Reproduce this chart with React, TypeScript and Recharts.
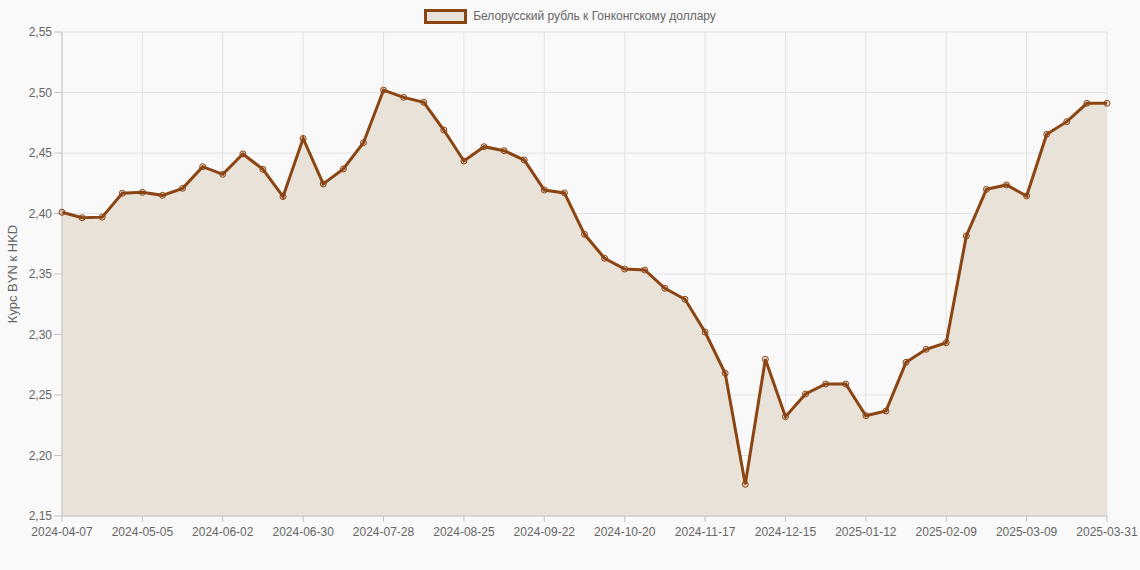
import React from 'react';
import { AreaChart, Area, XAxis, YAxis, CartesianGrid, Legend } from 'recharts';

const dates = [
  '2024-04-07', '2024-04-14', '2024-04-21', '2024-04-28', '2024-05-05', '2024-05-12', '2024-05-19', '2024-05-26',
  '2024-06-02', '2024-06-09', '2024-06-16', '2024-06-23', '2024-06-30', '2024-07-07', '2024-07-14', '2024-07-21',
  '2024-07-28', '2024-08-04', '2024-08-11', '2024-08-18', '2024-08-25', '2024-09-01', '2024-09-08', '2024-09-15',
  '2024-09-22', '2024-09-29', '2024-10-06', '2024-10-13', '2024-10-20', '2024-10-27', '2024-11-03', '2024-11-10',
  '2024-11-17', '2024-11-24', '2024-12-01', '2024-12-08', '2024-12-15', '2024-12-22', '2024-12-29', '2025-01-05',
  '2025-01-12', '2025-01-19', '2025-01-26', '2025-02-02', '2025-02-09', '2025-02-16', '2025-02-23', '2025-03-02',
  '2025-03-09', '2025-03-16', '2025-03-23', '2025-03-30', '2025-03-31',
];

const rates = [
  2.401, 2.3965, 2.397, 2.4167, 2.4175, 2.415, 2.4208, 2.4387,
  2.4324, 2.4492, 2.4365, 2.414, 2.462, 2.4244, 2.4368, 2.4585,
  2.502, 2.496, 2.4919, 2.469, 2.4434, 2.4552, 2.4519, 2.4442,
  2.4194, 2.417, 2.3828, 2.363, 2.3541, 2.3533, 2.3382, 2.3291,
  2.302, 2.268, 2.1762, 2.2795, 2.2321, 2.2508, 2.2591, 2.2591,
  2.2329, 2.2368, 2.277, 2.2878, 2.2932, 2.3814, 2.42, 2.4236,
  2.4145, 2.4655, 2.4759, 2.4911, 2.4911,
];

const xTicks = [
  '2024-04-07', '2024-05-05', '2024-06-02', '2024-06-30', '2024-07-28', '2024-08-25', '2024-09-22',
  '2024-10-20', '2024-11-17', '2024-12-15', '2025-01-12', '2025-02-09', '2025-03-09', '2025-03-31',
];

const yTicks = [2.15, 2.2, 2.25, 2.3, 2.35, 2.4, 2.45, 2.5, 2.55];

const seriesName = 'Белорусский рубль к Гонконгскому доллару';
const axisTitle = 'Курс BYN к HKD';

const data = dates.map((d, i) => ({ date: d, rate: rates[i] }));

const FONT = '"Liberation Sans", Arial, Helvetica, sans-serif';
const BROWN = '#8B4513';
const AREA = '#e9e2d9';

const LegendContent = () => (
  <div
    style={{
      display: 'flex',
      justifyContent: 'center',
      alignItems: 'center',
      height: 24,
      paddingLeft: 33,
      fontFamily: FONT,
    }}
  >
    <div
      style={{
        width: 37,
        height: 9,
        border: `3px solid ${BROWN}`,
        background: AREA,
        marginRight: 6,
        marginBottom: 8,
      }}
    />
    <span style={{ fontSize: 12, color: '#666', marginBottom: 8 }}>{seriesName}</span>
  </div>
);

export default function App() {
  return (
    <div style={{ position: 'absolute', left: 0, top: 0, width: 1140, height: 570, background: '#f9f9f9' }}>
      <AreaChart
        width={1140}
        height={570}
        data={data}
        margin={{ top: 8, right: 33, left: 0, bottom: 24 }}
      >
        <Legend verticalAlign="top" align="center" content={<LegendContent />} />
        <CartesianGrid stroke="#e2e2e2" strokeWidth={1} />
        <XAxis
          dataKey="date"
          scale="point"
          ticks={xTicks}
          interval={0}
          height={30}
          tickSize={6}
          tickMargin={5}
          stroke="#c4c4c4"
          tick={{ fill: '#666', fontSize: 12, fontFamily: FONT }}
        />
        <YAxis
          domain={[2.15, 2.55]}
          ticks={yTicks}
          width={62}
          tickSize={8}
          tickMargin={2}
          stroke="#c4c4c4"
          allowDataOverflow
          tickFormatter={(v: number) => v.toFixed(2).replace('.', ',')}
          tick={{ fill: '#666', fontSize: 12, fontFamily: FONT }}
          label={{
            value: axisTitle,
            angle: -90,
            position: 'insideLeft',
            offset: 12,
            style: { fill: '#666', fontSize: 13, fontFamily: FONT, textAnchor: 'middle' },
          }}
        />
        <Area
          type="linear"
          dataKey="rate"
          name={seriesName}
          stroke={BROWN}
          strokeWidth={3}
          fill={AREA}
          fillOpacity={1}
          dot={{ r: 3, stroke: BROWN, strokeWidth: 1, fill: BROWN, fillOpacity: 0.15 }}
          activeDot={false}
          isAnimationActive={false}
        />
      </AreaChart>
    </div>
  );
}
